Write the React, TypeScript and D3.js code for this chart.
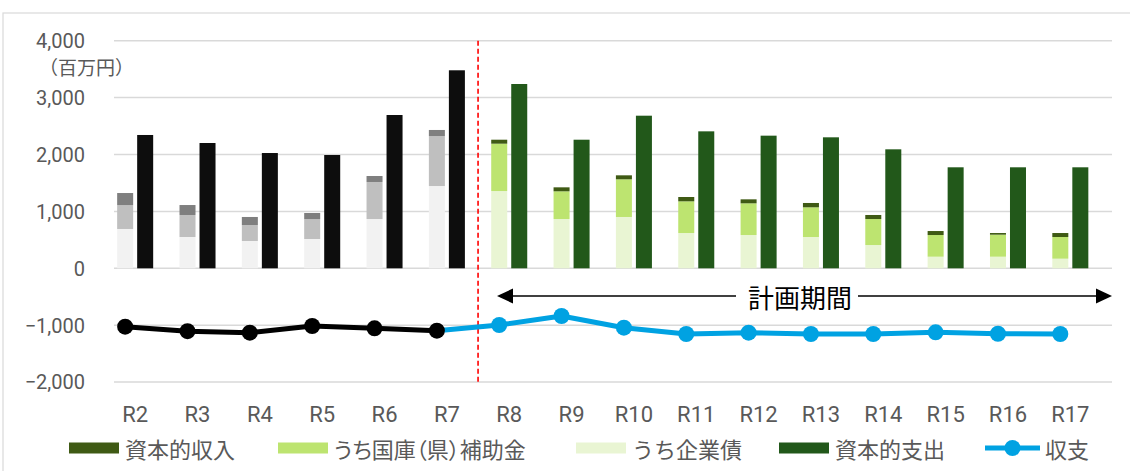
import React from "react";
import * as d3 from "d3";

const categories = ["R2","R3","R4","R5","R6","R7","R8","R9","R10","R11","R12","R13","R14","R15","R16","R17"];
const capitalRevenue = [1323,1112,902,972,1622,2431,2260,1423,1634,1253,1212,1148,937,655,620,620];
const subsidy = [421,387,281,351,651,879,832,487,662,557,557,522,457,381,387,381];
const bonds = [691,550,480,515,866,1446,1358,866,902,620,585,550,409,204,204,169];
const expenditure = [2343,2202,2026,1991,2694,3480,3239,2260,2682,2407,2331,2302,2091,1775,1775,1775];
const balance = [-1026,-1105,-1131,-1014,-1055,-1096,-996,-838,-1044,-1155,-1131,-1155,-1155,-1125,-1150,-1155];
const yTicks = [-2000,-1000,0,1000,2000,3000,4000];
const planStart = "R8";
const unitLabel = "（百万円）";
const planLabel = "計画期間";
const legendLabels = ["資本的収入","うち国庫（県）補助金","うち企業債","資本的支出","収支"];

const W = 1130, H = 471;
const TXT = "#595959";
const LAT = "Roboto, 'Noto Sans CJK JP', sans-serif";
const CJK = "'Noto Sans CJK JP', sans-serif";

const histColors = { rest: "#7f7f7f", subsidy: "#bfbfbf", bonds: "#f2f2f2", exp: "#0d0d0d" };
const planColors = { rest: "#3f5a14", subsidy: "#bde470", bonds: "#e9f5d3", exp: "#22581a" };
const BLUE = "#00a2e2";

export default function App() {
  const x = d3.scaleBand<string>().domain(categories).range([114, 1111.5]).padding(0);
  const sub = d3.scaleBand<string>().domain(["stack","exp","blank"]).range([0, x.bandwidth()]).paddingInner(0.2).paddingOuter(0.1575);
  const y = d3.scaleLinear().domain([-2000, 4000]).range([382.1, 40.7]);
  const planIdx = categories.indexOf(planStart);
  const colorsAt = (i: number) => (i < planIdx ? histColors : planColors);

  const stackX = (c: string) => (x(c) as number) + (sub("stack") as number);
  const expX = (c: string) => (x(c) as number) + (sub("exp") as number);
  const bw = sub.bandwidth();
  const pointX = (c: string) => stackX(c) + bw / 2;
  const labelX = (c: string) => (stackX(c) + expX(c) + bw) / 2;

  const pts = categories.map((c, i) => [pointX(c), y(balance[i])] as [number, number]);
  const line = d3.line();
  const histPts = pts.slice(0, planIdx);
  const planPts = pts.slice(planIdx - 1);

  const prev = categories[planIdx - 1];
  const dashX = (expX(prev) + bw + stackX(planStart)) / 2;

  const arrowY = 296;
  const arrowL = 497, arrowR = 1112;
  const planTextX = 800;

  const legendY = 448;
  const legendItems = [
    { x: 69, color: planColors.rest, label: legendLabels[0], palt: false },
    { x: 278, color: planColors.subsidy, label: legendLabels[1], palt: true },
    { x: 576, color: planColors.bonds, label: legendLabels[2], palt: false },
    { x: 779, color: planColors.exp, label: legendLabels[3], palt: false },
  ];

  return (
    <svg width={W} height={H} style={{ position: "absolute", left: 0, top: 0, background: "#fff" }}>
      <rect x={3} y={13} width={W + 10} height={H + 10} fill="#fff" stroke="#d9d9d9" strokeWidth={1.2} />
      {yTicks.map((t) => (
        <g key={t}>
          <line x1={114} x2={1112} y1={y(t)} y2={y(t)} stroke="#d9d9d9" strokeWidth={1.5} />
          <text x={85} y={y(t) + 7.3} textAnchor="end" fontFamily={LAT} fontSize={20} fill={TXT}>
            {d3.format(",")(t).replace("-", "−")}
          </text>
        </g>
      ))}
      <text x={39} y={66} dominantBaseline="central" fontFamily={CJK} fontSize={19} fill={TXT}>{unitLabel}</text>

      {categories.map((c, i) => {
        const col = colorsAt(i);
        const sx = stackX(c);
        return (
          <g key={c}>
            <rect x={sx} width={bw} y={y(bonds[i])} height={y(0) - y(bonds[i])} fill={col.bonds} />
            <rect x={sx} width={bw} y={y(bonds[i] + subsidy[i])} height={y(bonds[i]) - y(bonds[i] + subsidy[i])} fill={col.subsidy} />
            <rect x={sx} width={bw} y={y(capitalRevenue[i])} height={y(bonds[i] + subsidy[i]) - y(capitalRevenue[i])} fill={col.rest} />
            <rect x={expX(c)} width={bw} y={y(expenditure[i])} height={y(0) - y(expenditure[i])} fill={col.exp} />
            <text x={labelX(c)} y={422} textAnchor="middle" fontFamily={LAT} fontSize={22} fill={TXT}>{c}</text>
          </g>
        );
      })}

      <line x1={dashX} x2={dashX} y1={y(4000)} y2={y(-2000)} stroke="#ff0000" strokeWidth={1.6} strokeDasharray="5,3" />

      <path d={line(planPts) as string} fill="none" stroke={BLUE} strokeWidth={5} strokeLinejoin="round" />
      <path d={line(histPts) as string} fill="none" stroke="#000" strokeWidth={5} strokeLinejoin="round" />
      {pts.map((p, i) => (
        <circle key={i} cx={p[0]} cy={p[1]} r={8} fill={i < planIdx ? "#000" : BLUE} />
      ))}

      <line x1={arrowL + 14} x2={planTextX - 64} y1={arrowY} y2={arrowY} stroke="#000" strokeWidth={1.5} />
      <line x1={planTextX + 58} x2={arrowR - 14} y1={arrowY} y2={arrowY} stroke="#000" strokeWidth={1.5} />
      <path d={`M${arrowL},${arrowY} L${arrowL + 16},${arrowY - 7.5} L${arrowL + 16},${arrowY + 7.5} Z`} fill="#000" />
      <path d={`M${arrowR},${arrowY} L${arrowR - 16},${arrowY - 7.5} L${arrowR - 16},${arrowY + 7.5} Z`} fill="#000" />
      <text x={planTextX} y={arrowY} textAnchor="middle" dominantBaseline="central" fontFamily={CJK} fontSize={26} fill="#000">{planLabel}</text>

      {legendItems.map((it) => (
        <g key={it.label}>
          <rect x={it.x} y={legendY - 5.5} width={50} height={11} fill={it.color} />
          <text x={it.x + 56} y={legendY} dominantBaseline="central" fontFamily={CJK} fontSize={22} fill={TXT}
            style={it.palt ? { fontFeatureSettings: '"palt"' } : undefined}>{it.label}</text>
        </g>
      ))}
      <line x1={985} x2={1040} y1={legendY} y2={legendY} stroke={BLUE} strokeWidth={5} />
      <circle cx={1012.5} cy={legendY} r={8} fill={BLUE} />
      <text x={1045} y={legendY} dominantBaseline="central" fontFamily={CJK} fontSize={22} fill={TXT}>{legendLabels[4]}</text>
    </svg>
  );
}
